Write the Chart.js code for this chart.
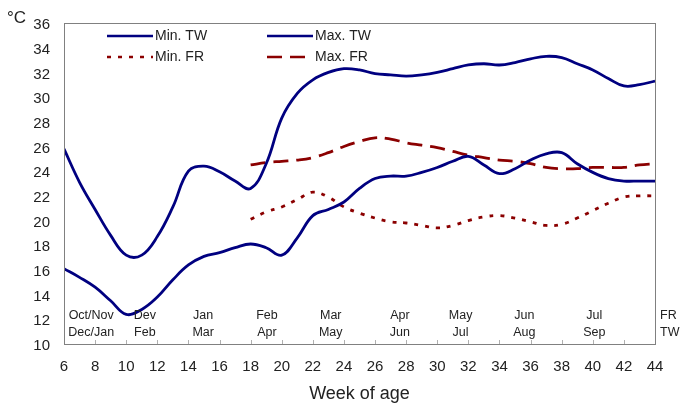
<!DOCTYPE html>
<html>
<head>
<meta charset="utf-8">
<script src="https://cdn.jsdelivr.net/npm/chart.js@4"></script>
<style>
  body { margin: 0; background: #fff; }
  #wrap { width: 685px; height: 414px; }
</style>
</head>
<body>
<div id="wrap"><canvas id="tempChart"></canvas></div>
<script>
/********* DATA ************/
const weeks = [6, 7, 8, 9, 10, 11, 12, 13, 14, 15, 16, 17, 18, 19, 20, 21, 22, 23, 24, 25,
  26, 27, 28, 29, 30, 31, 32, 33, 34, 35, 36, 37, 38, 39, 40, 41, 42, 43, 44];

const minTW = [16.1, 15.4, 14.6, 13.5, 12.4, 12.8, 13.8, 15.2, 16.4, 17.1, 17.4, 17.8, 18.1, 17.8,
  17.2, 18.6, 20.4, 20.9, 21.5, 22.6, 23.4, 23.6, 23.6, 23.9, 24.3, 24.8, 25.2, 24.5, 23.8, 24.2,
  24.9, 25.4, 25.5, 24.6, 23.9, 23.4, 23.2, 23.2, 23.2];

const maxTW = [25.8, 23.1, 20.9, 18.8, 17.2, 17.2, 18.7, 21.1, 24.0, 24.4, 23.95, 23.2, 22.6, 24.6,
  28.3, 30.3, 31.4, 32.0, 32.3, 32.2, 31.9, 31.8, 31.7, 31.8, 32.0, 32.3, 32.6, 32.7, 32.6, 32.8,
  33.1, 33.3, 33.2, 32.7, 32.2, 31.5, 30.9, 31.0, 31.3];

// FR series start at week 18
const minFR = [null, null, null, null, null, null, null, null, null, null, null, null,
  20.1, 20.7, 21.1, 21.7, 22.3, 21.9, 21.1, 20.6, 20.2, 19.9, 19.8, 19.6, 19.4, 19.6, 20.0,
  20.3, 20.4, 20.2, 19.9, 19.6, 19.7, 20.2, 20.8, 21.4, 21.9, 22.0, 22.0];

const maxFR = [null, null, null, null, null, null, null, null, null, null, null, null,
  24.5, 24.7, 24.8, 24.9, 25.1, 25.5, 26.0, 26.4, 26.7, 26.6, 26.3, 26.1, 25.9, 25.6, 25.3,
  25.1, 24.9, 24.8, 24.6, 24.3, 24.2, 24.2, 24.3, 24.3, 24.3, 24.5, 24.6];

// month labels written inside the plot (FR row on top, TW row below)
const monthWeeks = [7.75, 11.2, 14.95, 19.05, 23.15, 27.6, 31.5, 35.6, 40.1];
const monthsFR = ["Oct/Nov", "Dev", "Jan", "Feb", "Mar", "Apr", "May", "Jun", "Jul"];
const monthsTW = ["Dec/Jan", "Feb", "Mar", "Apr", "May", "Jun", "Jul", "Aug", "Sep"];

const NAVY = "#000080";
const DARKRED = "#8b0000";
const FONT = "'Liberation Sans', Arial, sans-serif";

const pts = (vals) => weeks.map((w, i) => ({ x: w, y: vals[i] }));

/********* PLUGIN: frame, legend, labels ************/
const extras = {
  id: "extras",
  afterDatasetsDraw(chart) {
    const { ctx, chartArea: a, scales } = chart;
    const xs = scales.x;
    ctx.save();

    // plot frame
    ctx.strokeStyle = "#808080";
    ctx.lineWidth = 1;
    ctx.strokeRect(a.left + 0.5, a.top + 0.5, a.right - a.left, a.bottom - a.top);

    // small inward ticks on the x axis
    ctx.strokeStyle = "#b0b0b0";
    for (let w = 8; w < 44; w += 2) {
      const px = Math.round(xs.getPixelForValue(w)) + 0.5;
      ctx.beginPath();
      ctx.moveTo(px, a.bottom);
      ctx.lineTo(px, a.bottom - 4);
      ctx.stroke();
    }

    // month labels
    ctx.fillStyle = "#222";
    ctx.font = "12.5px " + FONT;
    ctx.textAlign = "center";
    ctx.textBaseline = "middle";
    monthWeeks.forEach((w, i) => {
      const px = xs.getPixelForValue(w);
      ctx.fillText(monthsFR[i], px, 316);
      ctx.fillText(monthsTW[i], px, 333);
    });
    ctx.textAlign = "left";
    ctx.fillText("FR", a.right + 5, 316);
    ctx.fillText("TW", a.right + 5, 333);

    // °C unit
    ctx.font = "17px " + FONT;
    ctx.fillText("°C", 7, 18);

    // legend
    const items = [
      { label: "Min. TW", x: 107, y: 36, color: NAVY, dash: [] },
      { label: "Max. TW", x: 267, y: 36, color: NAVY, dash: [] },
      { label: "Min. FR", x: 107, y: 57, color: DARKRED, dash: [4, 7] },
      { label: "Max. FR", x: 267, y: 57, color: DARKRED, dash: [15, 8] },
    ];
    ctx.font = "14px " + FONT;
    items.forEach((it) => {
      ctx.strokeStyle = it.color;
      ctx.lineWidth = 2.5;
      ctx.setLineDash(it.dash);
      ctx.beginPath();
      ctx.moveTo(it.x, it.y);
      ctx.lineTo(it.x + 46, it.y);
      ctx.stroke();
      ctx.setLineDash([]);
      ctx.fillStyle = "#222";
      ctx.fillText(it.label, it.x + 48, it.y);
    });

    ctx.restore();
  },
};

/********* LINE CHART ************/
const ctx = document.getElementById("tempChart");

new Chart(ctx, {
  type: "line",
  data: {
    datasets: [
      { label: "Min. TW", data: pts(minTW), borderColor: NAVY, borderWidth: 2.8 },
      { label: "Max. TW", data: pts(maxTW), borderColor: NAVY, borderWidth: 2.8 },
      { label: "Min. FR", data: pts(minFR), borderColor: DARKRED, borderWidth: 2.8, borderDash: [4, 7] },
      { label: "Max. FR", data: pts(maxFR), borderColor: DARKRED, borderWidth: 2.8, borderDash: [15, 8] },
    ],
  },
  options: {
    responsive: true,
    maintainAspectRatio: false,
    animation: false,
    spanGaps: false,
    elements: {
      point: { radius: 0 },
      line: { tension: 0.4, fill: false },
    },
    layout: { padding: { top: 23, right: 30, left: 0, bottom: 0 } },
    scales: {
      x: {
        type: "linear",
        min: 6,
        max: 44,
        grid: { display: false },
        border: { display: false },
        afterFit: (s) => { s.height = 70; },
        ticks: {
          stepSize: 2,
          color: "#222",
          padding: 6,
          font: { size: 15, family: FONT },
        },
        title: {
          display: true,
          text: "Week of age",
          color: "#222",
          font: { size: 18, family: FONT },
          padding: { top: 4, bottom: 9 },
        },
      },
      y: {
        min: 10,
        max: 36,
        grid: { display: false },
        border: { display: false },
        afterFit: (s) => { s.width = 64; },
        ticks: {
          stepSize: 2,
          color: "#222",
          padding: 6,
          labelOffset: 2,
          font: { size: 15, family: FONT },
        },
      },
    },
    plugins: {
      legend: { display: false },
      tooltip: { enabled: false },
    },
  },
  plugins: [extras],
});
</script>
</body>
</html>
